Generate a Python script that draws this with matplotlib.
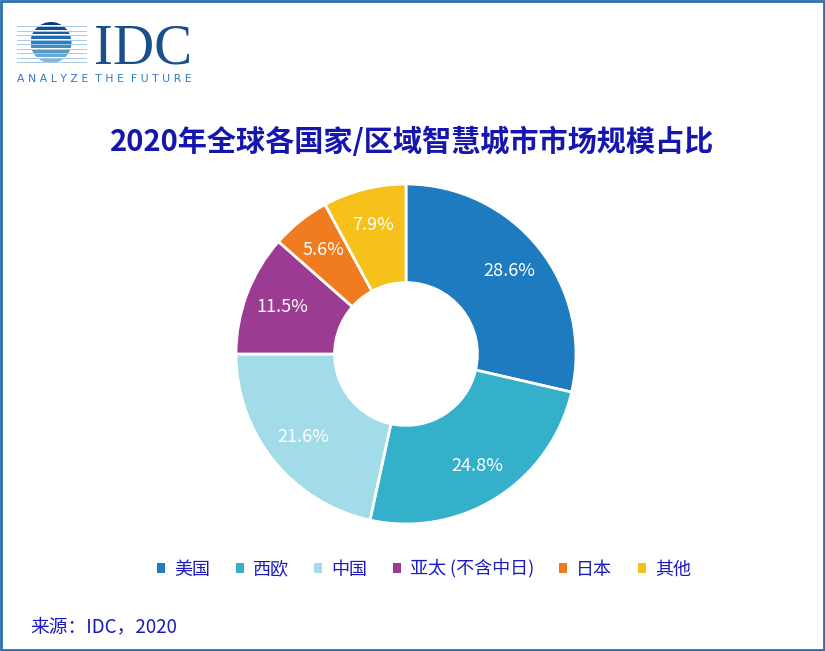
import numpy as np
import matplotlib.pyplot as plt
from matplotlib.patches import Rectangle, Circle

plt.rcParams['font.family'] = ['Noto Sans CJK SC', 'DejaVu Sans']

regions = ['美国', '西欧', '中国', '亚太 (不含中日)', '日本', '其他']
shares = [28.6, 24.8, 21.6, 11.5, 5.6, 7.9]
colors = ['#1F7BC0', '#35B0CA', '#A2DCE8', '#9C3B92', '#F07C1F', '#F5C11A']

title = '2020年全球各国家/区域智慧城市市场规模占比'
source = '来源：IDC，2020'
tagline = 'ANALYZE THE FUTURE'

W, H = 825, 651
fig = plt.figure(figsize=(W / 100, H / 100), dpi=100)

# overlay axes in pixel coords for logo, text and border
bg = fig.add_axes([0, 0, 1, 1])
bg.set_xlim(0, W)
bg.set_ylim(H, 0)
bg.axis('off')
bg.add_patch(Rectangle((1, 1), W - 2, H - 2, fill=False, ec='#2A6FB0', lw=2))

# IDC logo: striped globe
cx, cy, r = 51, 42.5, 20.5
globe = Circle((cx, cy), r, transform=bg.transData, fill=False, lw=0)
bg.add_patch(globe)
n = 9
pitch = 2 * r / n
for i in range(n):
    y0 = cy - r + i * pitch
    shade = plt.cm.Blues(0.95 - 0.5 * i / (n - 1))
    bg.plot([17, 86], [y0 + pitch - 0.6, y0 + pitch - 0.6], color='#A8C8E8', lw=0.7)
    st = Rectangle((cx - r, y0), 2 * r, pitch - 1.2, color=shade, lw=0)
    bg.add_patch(st)
    st.set_clip_path(globe)
bg.text(94, 63, 'IDC', family='Liberation Serif', fontsize=41, color='#1B4F8C', va='baseline')
spaced = '  '.join(' '.join(word) for word in tagline.split())
bg.text(17, 82, spaced, fontsize=7.8, color='#2B7AC3', family='DejaVu Sans',
        va='baseline', ha='left')

fig.text(412 / W, 1 - 142 / H, title, ha='center', va='center', fontsize=21,
         fontweight='bold', color='#1515B0')
fig.text(30 / W, 1 - 627 / H, source, ha='left', va='center', fontsize=13.5, color='#1A1AC0')

R = 170
ax = fig.add_axes([(406 - R) / W, (H - 354 - R) / H, 2 * R / W, 2 * R / H])
wedges, texts = ax.pie(shares, colors=colors, startangle=90, counterclock=False,
                       radius=1, wedgeprops=dict(width=0.58, edgecolor='white', linewidth=2))
for w, v in zip(wedges, shares):
    ang = np.deg2rad((w.theta1 + w.theta2) / 2)
    ax.text(0.78 * np.cos(ang), 0.78 * np.sin(ang), f'{v}%', ha='center', va='center',
            fontsize=13, color='white')
ax.set_xlim(-1, 1)
ax.set_ylim(-1, 1)
ax.set_aspect('equal')

leg = fig.legend(wedges, regions, loc='center', bbox_to_anchor=(424 / W, 1 - 569 / H),
                 ncol=6, frameon=False, fontsize=13, handlelength=0.45, handleheight=0.45,
                 handletextpad=0.5, columnspacing=1.4, labelcolor='#1A1AC0')
for h in leg.legend_handles:
    h.set_linewidth(0)

fig.savefig('out.png', dpi=100)
